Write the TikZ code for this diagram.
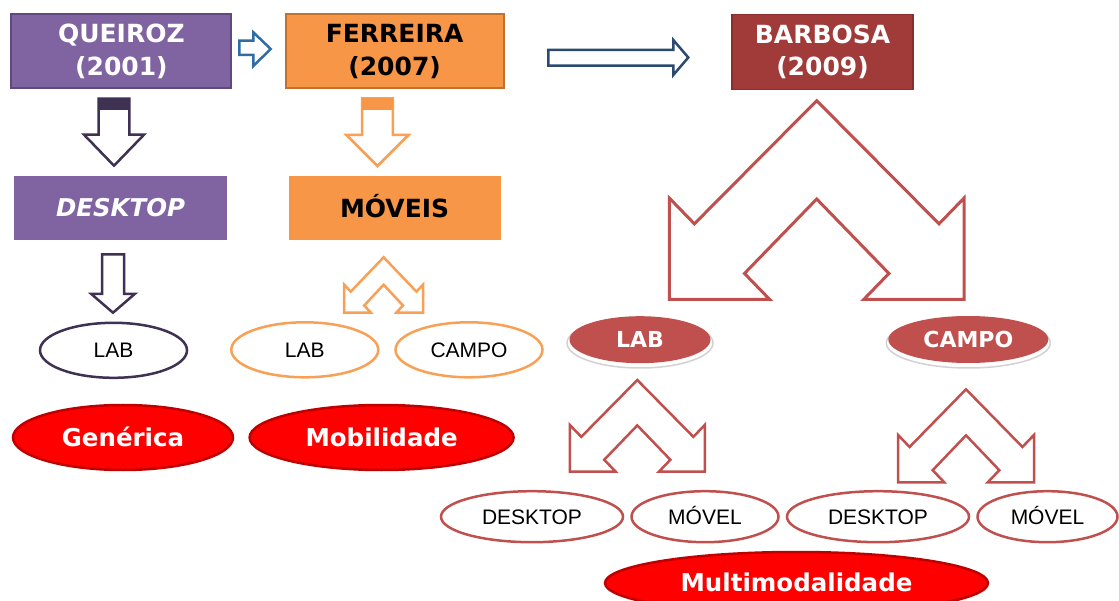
\documentclass[tikz,border=0pt]{standalone}
\usepackage{fontspec}
\setmainfont{DejaVu Sans}
\newfontfamily\arialf{Liberation Sans}
\usetikzlibrary{shapes.geometric}
\definecolor{purp}{HTML}{8064A2}
\definecolor{purpdark}{HTML}{3F3151}
\definecolor{purpedge}{HTML}{5E4A7C}
\definecolor{oran}{HTML}{F79646}
\definecolor{oranedge}{HTML}{C0702F}
\definecolor{oranline}{HTML}{F9A057}
\definecolor{barb}{HTML}{A03B39}
\definecolor{barbedge}{HTML}{8A2E2C}
\definecolor{redline}{HTML}{C0504D}
\definecolor{brightred}{HTML}{FF0000}
\definecolor{darkred}{HTML}{C00000}
\definecolor{blueA}{HTML}{2E6CA8}
\definecolor{blueB}{HTML}{2B4A70}
\newcommand\splitarr[5]{%
  \begin{scope}[shift={(#2,#3)},xscale=#4,yscale=#5]
    \draw[#1] (0,0) -- (-0.83,0.62) -- (-1,0.49) -- (-1,1) -- (-0.32,1) -- (-0.49,0.87) -- (0,0.495)
      -- (0.49,0.87) -- (0.32,1) -- (1,1) -- (1,0.49) -- (0.83,0.62) -- cycle;
  \end{scope}}
% style, cx, top, shaft half, head half, head start, tip
\newcommand\downarr[7]{%
  \draw[#1] ({#2-#4},#3) -- ({#2+#4},#3) -- ({#2+#4},#6) -- ({#2+#5},#6) -- (#2,#7)
    -- ({#2-#5},#6) -- ({#2-#4},#6) -- cycle;}
\tikzset{
  titlebox/.style={rectangle, minimum width=#1, inner sep=0pt, align=center,
    font=\fontsize{25}{32.5}\selectfont\bfseries},
  oneline/.style={text height=#1, text depth=0pt},
  ovalbox/.style={ellipse, inner sep=0pt, oneline=15pt, font=\arialf\fontsize{21}{24}\selectfont},
  redoval/.style={ellipse, inner sep=0pt, oneline=17.9pt, fill=brightred, draw=darkred, line width=2.5pt,
    text=white, font=\fontsize{24.5}{28}\selectfont\bfseries},
  laboval/.style={ellipse, inner sep=0pt, oneline=16pt, fill=redline, text=white,
    font=\fontsize{22}{24}\selectfont\bfseries},
}
\begin{document}
\begin{tikzpicture}[x=1pt,y=-1pt]
\useasboundingbox (0,0) rectangle (1119,601);
\fill[white] (0,0) rectangle (1119,601);

% top boxes
\node[titlebox=220pt, minimum height=74pt, fill=purp, draw=purpedge, line width=2pt, text=white]
  (q) at (121.4,51.2) {QUEIROZ\\(2001)};
\node[titlebox=218pt, minimum height=74pt, fill=oran, draw=oranedge, line width=2pt, text=black]
  (f) at (394.6,51.4) {FERREIRA\\(2007)};
\node[titlebox=181pt, minimum height=75pt, fill=barb, draw=barbedge, line width=1.5pt, text=white]
  (b) at (822.5,51.8) {BARBOSA\\(2009)};

% horizontal block arrows
\draw[blueA, line width=2.5pt, fill=white, line join=miter]
  (239.3,40.7) -- (253.3,40.7) -- (253.3,32.3) -- (270.7,49) -- (253.3,66) -- (253.3,55) -- (239.3,55) -- cycle;
\draw[blueB, line width=2.5pt, fill=white]
  (548.3,50) -- (673.3,50) -- (673.3,40) -- (688.3,57.5) -- (673.3,75) -- (673.3,65.7) -- (548.3,65.7) -- cycle;

% down arrows
\downarr{purpdark, line width=2.5pt, fill=white}{114}{98.7}{15.3}{30}{134.7}{165.7}
\fill[purpdark] (98.7,98.7) rectangle (129.3,110);
\downarr{oranline, line width=2.5pt, fill=white}{377.5}{98.5}{15.3}{31}{135}{166}
\fill[oran] (362.2,98.5) rectangle (392.8,110);

% second-row boxes
\node[titlebox=212.7pt, minimum height=64.3pt, oneline=17.9pt, fill=purp, text=white, font=\fontsize{24.5}{28}\selectfont\bfseries\itshape]
  (dk) at (120.6,207.9) {DESKTOP};
\node[titlebox=212pt, minimum height=64pt, oneline=18.2pt, fill=oran, text=black]
  (mv) at (394.6,208) {MÓVEIS};

% lower arrows left
\downarr{purpdark, line width=2.5pt, fill=white}{113}{254.3}{11}{21.7}{294}{312.7}
\splitarr{oranline, line width=2.5pt, fill=white}{383.6}{257.3}{39.6}{55.4}

% ellipses left
\node[ovalbox, minimum width=147pt, minimum height=55pt, draw=purpdark, line width=2.5pt] (lab1) at (113.5,350.3) {LAB};
\node[ovalbox, minimum width=147pt, minimum height=55pt, draw=oranline, line width=2.5pt] (lab2) at (304.8,349.8) {LAB};
\node[ovalbox, minimum width=147pt, minimum height=55pt, draw=oranline, line width=2.5pt] (campo2) at (469,349.8) {CAMPO};

\node[redoval, minimum width=220pt, minimum height=65pt] (gen) at (123,437.5) {Genérica};
\node[redoval, minimum width=264pt, minimum height=65pt] (mob) at (381.6,437.5) {Mobilidade};

% Barbosa branch
\splitarr{redline, line width=3pt, fill=white}{816.7}{100.7}{147.4}{198.6}

\draw[gray!35, line width=1.5pt, fill=white] (640,343) ellipse [x radius=73, y radius=25];
\node[laboval, minimum width=141pt, minimum height=47pt] (rlab) at (640,339.7) {LAB};
\draw[gray!35, line width=1.5pt, fill=white] (968.3,343) ellipse [x radius=82, y radius=25];
\node[laboval, minimum width=160pt, minimum height=47pt] (rcampo) at (968.3,339.5) {CAMPO};

\splitarr{redline, line width=2.5pt, fill=white}{637.3}{380}{67.5}{91.7}
\splitarr{redline, line width=2.5pt, fill=white}{966}{389.3}{68}{93}

\node[ovalbox, minimum width=182pt, minimum height=51pt, draw=redline, line width=2.5pt] (d1) at (532,516.7) {DESKTOP};
\node[ovalbox, minimum width=147pt, minimum height=51pt, draw=redline, line width=2.5pt] (m1) at (705,516.7) {MÓVEL};
\node[ovalbox, minimum width=182pt, minimum height=51pt, draw=redline, line width=2.5pt] (d2) at (878,516.7) {DESKTOP};
\node[ovalbox, minimum width=140pt, minimum height=51pt, draw=redline, line width=2.5pt] (m2) at (1047.5,516.7) {MÓVEL};

\node[redoval, minimum width=383pt, minimum height=62pt] (multi) at (796.5,583) {Multimodalidade};
\end{tikzpicture}
\end{document}
